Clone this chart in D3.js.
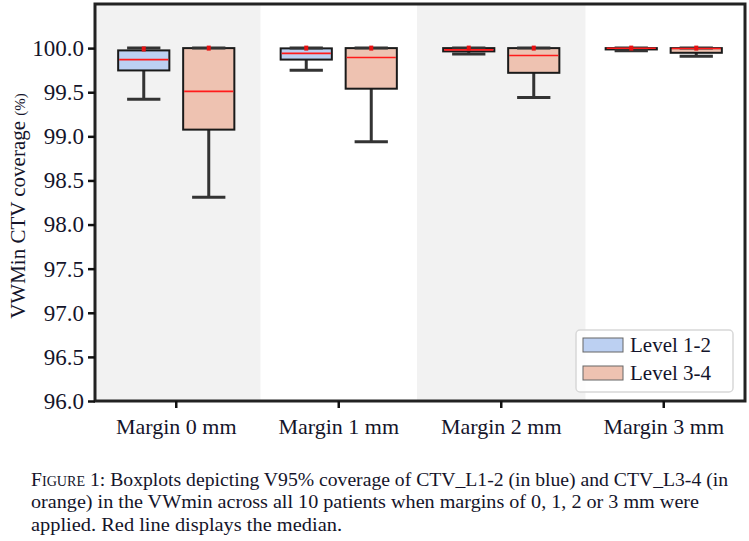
<!DOCTYPE html>
<html>
<head>
<meta charset="utf-8">
<script src="https://cdn.jsdelivr.net/npm/d3@7"></script>
<style>
  body { margin: 0; background: #fff; }
</style>
</head>
<body>
<div id="chart"></div>
<script>
// Boxplots of VWMin CTV coverage per margin, two levels per margin

const categories = ["Margin 0 mm", "Margin 1 mm", "Margin 2 mm", "Margin 3 mm"];
const yTicks = [96.0, 96.5, 97.0, 97.5, 98.0, 98.5, 99.0, 99.5, 100.0];

// Level 1-2 (blue)
const l12Low  = [99.42, 99.75, 99.932, 99.97];
const l12Q1   = [99.747, 99.87, 99.963, 99.985];
const l12Med  = [99.87, 99.94, 99.98, 99.998];
const l12Q3   = [99.974, 99.997, 100.0, 100.0];
const l12High = [100.0, 100.0, 100.0, 100.0];
const l12Mark = [99.99, 100.0, 100.0, 100.0];

// Level 3-4 (orange)
const l34Low  = [98.31, 98.94, 99.44, 99.909];
const l34Q1   = [99.076, 99.54, 99.72, 99.947];
const l34Med  = [99.51, 99.894, 99.917, 99.995];
const l34Q3   = [100.0, 100.0, 100.0, 100.0];
const l34High = [100.0, 100.0, 100.0, 100.0];
const l34Mark = [100.0, 100.0, 100.0, 100.0];

const legendLabels = ["Level 1-2", "Level 3-4"];
const fills = ["#bcd0f2", "#eec2b1"];

const captionLines = [
  ["Figure", " 1: Boxplots depicting V95% coverage of CTV_L1-2 (in blue) and CTV_L3-4 (in"],
  ["", "orange) in the VWmin across all 10 patients when margins of 0, 1, 2 or 3 mm were"],
  ["", "applied. Red line displays the median."]
];

const serif = "Liberation Serif";
const ink = "#14142a";

const width = 749, height = 541;
const margin = { left: 95, right: 4, top: 4, bottom: 140 };

const svg = d3.select("#chart")
  .append("svg")
  .attr("width", width)
  .attr("height", height);

const x = d3.scaleBand()
  .domain(categories)
  .range([margin.left, width - margin.right])
  .padding(0);

const y = d3.scaleLinear()
  .domain([96, 100.5])
  .range([height - margin.bottom, margin.top]);

const step = x.step();
const boxW = step * 0.315;
const offset = step * 0.2;

// gray bands behind margin 0 and margin 2
svg.append("g")
  .selectAll("rect")
  .data(categories.filter((d, i) => i % 2 === 0))
  .join("rect")
  .attr("x", d => Math.max(margin.left, x(d) + step / 2 - step * 0.518))
  .attr("width", d => x(d) + step / 2 + step * 0.518 - Math.max(margin.left, x(d) + step / 2 - step * 0.518))
  .attr("y", margin.top)
  .attr("height", y(96) - margin.top)
  .attr("fill", "#f2f2f2");

// build box rows
const series = [
  { low: l12Low, q1: l12Q1, med: l12Med, q3: l12Q3, high: l12High, mark: l12Mark, dx: -offset, fill: fills[0] },
  { low: l34Low, q1: l34Q1, med: l34Med, q3: l34Q3, high: l34High, mark: l34Mark, dx: offset, fill: fills[1] }
];

const boxes = [];
series.forEach(s => {
  categories.forEach((c, i) => {
    boxes.push({
      cx: x(c) + step / 2 + s.dx,
      low: s.low[i], q1: s.q1[i], med: s.med[i], q3: s.q3[i], high: s.high[i], mark: s.mark[i],
      fill: s.fill
    });
  });
});

const g = svg.append("g");
const capW = boxW * 0.65;

boxes.forEach(b => {
  // whiskers
  g.append("line")
    .attr("x1", b.cx).attr("x2", b.cx)
    .attr("y1", y(b.q1)).attr("y2", y(b.low))
    .attr("stroke", "#333").attr("stroke-width", 3);
  g.append("line")
    .attr("x1", b.cx).attr("x2", b.cx)
    .attr("y1", y(b.q3)).attr("y2", y(b.high))
    .attr("stroke", "#333").attr("stroke-width", 3);

  // box
  g.append("rect")
    .attr("x", b.cx - boxW / 2)
    .attr("width", boxW)
    .attr("y", y(b.q3))
    .attr("height", Math.max(0.5, y(b.q1) - y(b.q3)))
    .attr("fill", b.fill)
    .attr("stroke", "#1a1a1a")
    .attr("stroke-width", 2);

  // caps
  [b.low, b.high].forEach(v => {
    g.append("line")
      .attr("x1", b.cx - capW / 2).attr("x2", b.cx + capW / 2)
      .attr("y1", y(v)).attr("y2", y(v))
      .attr("stroke", "#333").attr("stroke-width", 3);
  });

  // median
  g.append("line")
    .attr("x1", b.cx - boxW / 2 + 1).attr("x2", b.cx + boxW / 2 - 1)
    .attr("y1", y(b.med)).attr("y2", y(b.med))
    .attr("stroke", "#ff1a1a").attr("stroke-width", 1.6);

  // small red marker
  g.append("rect")
    .attr("x", b.cx - 2).attr("width", 4)
    .attr("y", y(b.mark) - 2.5).attr("height", 5)
    .attr("fill", "#e81010");
});

// frame
svg.append("rect")
  .attr("x", margin.left)
  .attr("y", margin.top)
  .attr("width", width - margin.right - margin.left)
  .attr("height", y(96) - margin.top)
  .attr("fill", "none")
  .attr("stroke", "#222")
  .attr("stroke-width", 3);

// y axis
const yAxis = svg.append("g")
  .attr("transform", `translate(${margin.left},0)`)
  .call(d3.axisLeft(y).tickValues(yTicks).tickFormat(d3.format(".1f")).tickSize(7).tickPadding(4));
yAxis.attr("font-family", serif).attr("font-size", 23);
yAxis.select(".domain").remove();
yAxis.selectAll(".tick line").attr("stroke", "#111").attr("stroke-width", 2.5);
yAxis.selectAll(".tick text").attr("fill", ink);

// x axis
const xAxis = svg.append("g")
  .attr("transform", `translate(0,${y(96)})`)
  .call(d3.axisBottom(x).tickSize(7).tickPadding(10));
xAxis.attr("font-family", serif).attr("font-size", 22);
xAxis.select(".domain").remove();
xAxis.selectAll(".tick line").attr("stroke", "#111").attr("stroke-width", 2.5);
xAxis.selectAll(".tick text").attr("fill", ink);

// y label
const yl = svg.append("text")
  .attr("transform", "translate(25,206) rotate(-90)")
  .attr("text-anchor", "middle")
  .attr("fill", ink)
  .attr("font-family", serif)
  .attr("font-size", 21);
yl.append("tspan").text("VWMin CTV coverage ");
yl.append("tspan").attr("font-size", 15).text("(%)");

// legend
const lg = svg.append("g");
lg.append("rect")
  .attr("x", 576).attr("y", 330)
  .attr("width", 157).attr("height", 62)
  .attr("rx", 4)
  .attr("fill", "#fff").attr("fill-opacity", 0.85)
  .attr("stroke", "#d8d8d8").attr("stroke-width", 1.5);
legendLabels.forEach((lab, i) => {
  lg.append("rect")
    .attr("x", 583).attr("y", 338 + i * 28)
    .attr("width", 40).attr("height", 14)
    .attr("fill", fills[i])
    .attr("stroke", "#666").attr("stroke-width", 1);
  lg.append("text")
    .attr("x", 630).attr("y", 352 + i * 28)
    .attr("fill", ink)
    .attr("font-family", serif)
    .attr("font-size", 21)
    .text(lab);
});

// caption
const capLengths = [697, 668, 311];
captionLines.forEach((parts, i) => {
  const t = svg.append("text")
    .attr("x", 31)
    .attr("y", 486 + i * 22.3)
    .attr("fill", ink)
    .attr("textLength", capLengths[i])
    .attr("lengthAdjust", "spacingAndGlyphs")
    .attr("font-family", serif)
    .attr("font-size", 19.5);
  if (parts[0]) t.append("tspan").attr("font-variant", "small-caps").text(parts[0]);
  t.append("tspan").text(parts[1]);
});
</script>
</body>
</html>
